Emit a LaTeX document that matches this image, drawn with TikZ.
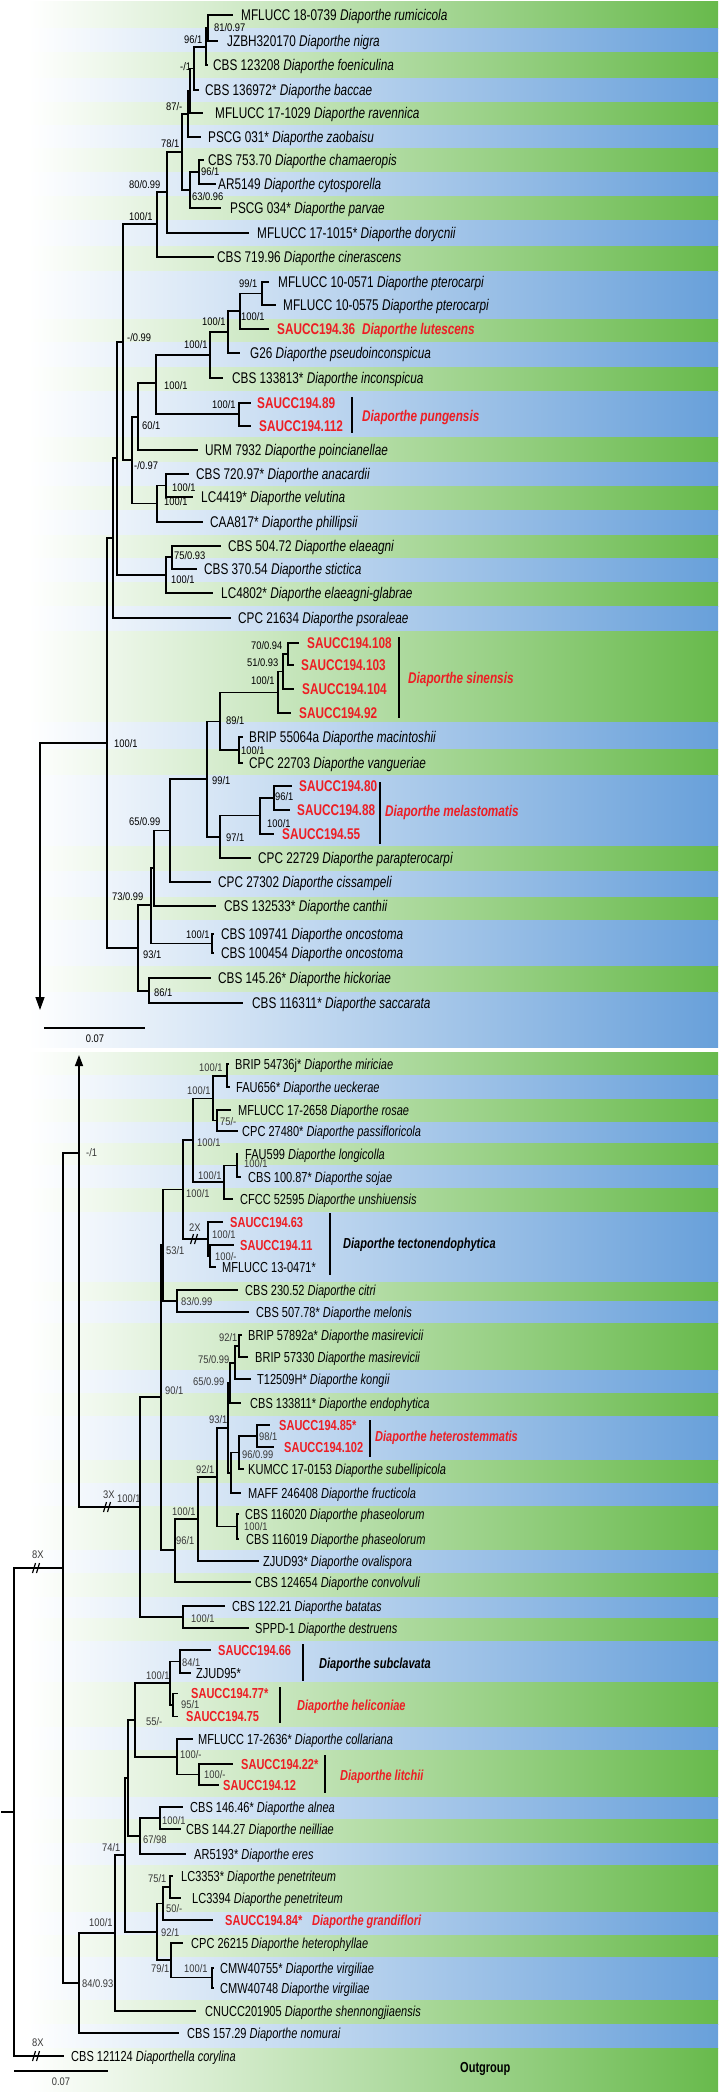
\documentclass[tikz,border=0pt]{standalone}
\usepackage{fontspec}
\setmainfont[FakeStretch=0.76]{Liberation Sans}
\newfontfamily\labfont[FakeStretch=0.85]{Liberation Sans}
\usetikzlibrary{arrows.meta}
\definecolor{gB}{RGB}{104,186,76}
\definecolor{bB}{RGB}{104,160,218}
\definecolor{sred}{RGB}{237,30,36}
\tikzset{
 br/.style={line width=1.4pt, line cap=rect},
 grpbar/.style={line width=1.8pt},
 brkline/.style={line width=1.2pt},
 leafT/.style={anchor=west, inner sep=0pt, text height=11.1pt, text depth=0pt, font=\fontsize{15.5}{18}\selectfont},
 leafB/.style={anchor=west, inner sep=0pt, text height=10.4pt, text depth=0pt, font=\fontsize{14.5}{17}\selectfont},
 leaf/.style={leafT},
 suppbase/.style={anchor=west, inner sep=0pt, text height=7.9pt, text depth=0pt, font=\labfont\fontsize{11}{12}\selectfont},
 supp/.style={suppbase},
}
\newcommand\dia[1]{\textit{Diaporthe #1}}
\newcommand\srb[1]{\textcolor{sred}{\bfseries #1}}
\newcommand\srbi[1]{\textcolor{sred}{\bfseries\itshape #1}}
\newcommand\tleaf[6]{\coordinate (#1) at (#3,#4);\draw[br] (#2) |- (#1);\node[leaf] (#1-t) at (#5,#4) {#6};}
\newcommand\tnode[4]{\coordinate (#1) at (#3,#4);\draw[br] (#2) |- (#1);}
\newcommand\tval[4]{\node[supp] (#1) at (#2,#3) {#4};}
\newcommand\tbrk[2]{\draw[brkline] (#1-3.5,#2+5) -- (#1-0.5,#2-5) (#1+0.5,#2+5) -- (#1+3.5,#2-5);}
\begin{document}
\begin{tikzpicture}[x=1pt,y=-1pt]
\useasboundingbox (0,0) rectangle (718,2093);
\fill[white] (0,0) rectangle (718,2093);
% ---------- bands ----------
\foreach \ya/\yb/\cc in {2/29/gB,29/53/bB,53/78/gB,78/102/bB,102/125/gB,125/148/bB,148/172/gB,172/196/bB,196/220/gB,220/246/bB,246/271/gB,271/319/bB,319/342/gB,342/367/bB,367/391/gB,391/437/bB,437/462/gB,462/486/bB,486/510/gB,510/535/bB,535/558/gB,558/582/bB,582/606/gB,606/631/bB,631/722/gB,722/749/bB,749/775/gB,775/846/bB,846/871/gB,871/897/bB,897/920/gB,920/966/bB,966/992/gB,992/1047/bB,
1052/1075/gB,1075/1099/bB,1099/1122/gB,1122/1143/bB,1143/1165/gB,1165/1188/bB,1188/1212/gB,1212/1282/bB,1282/1301/gB,1301/1323/bB,1323/1370/gB,1370/1393/bB,1393/1416/gB,1416/1460/bB,1460/1483/gB,1483/1506/bB,1506/1550/gB,1550/1573/bB,1573/1597/gB,1597/1618/bB,1618/1641/gB,1641/1682/bB,1682/1727/gB,1727/1750/bB,1750/1797/gB,1797/1819/bB,1819/1843/gB,1843/1865/bB,1865/1912/gB,1912/1935/bB,1935/1957/gB,1957/2000/bB,2000/2024/gB,2024/2048/bB,2048/2091/gB}
{\shade[left color=white,right color=\cc] (28,\ya) rectangle (718,\yb);}
% ================= TOP PANEL =================
\coordinate (tA) at (40,743);
\coordinate (tArr) at (40,1010);
\draw[br,-{Triangle[width=9pt,length=13pt]}] (tA) -- (tArr);
\coordinate (A) at (107,743); \draw[br] (tA) -- (A);
\tval{A-l}{114}{744}{100/1}
\tnode{N1}{A}{113}{538}
\tleaf{psor}{N1}{230}{618}{238}{CPC 21634 \dia{psoraleae}}
\tnode{N2}{N1}{117}{458}
\tnode{Nela}{N2}{166}{575} \tval{Nela-l}{171}{580}{100/1}
\tnode{N75}{Nela}{172}{557} \tval{N75-l}{174}{556}{75/0.93}
\tleaf{elae}{N75}{220}{546}{228}{CBS 504.72 \dia{elaeagni}}
\tleaf{stic}{N75}{196}{569}{204}{CBS 370.54 \dia{stictica}}
\tleaf{elgl}{Nela}{212}{593}{221}{LC4802* \dia{elaeagni-glabrae}}
\tnode{N3}{N2}{123}{342} \tval{N3-l}{127}{338}{-/0.99}
\tnode{C100}{N3}{157}{224} \tval{C100-l}{129}{217}{100/1}
\tnode{N80}{C100}{167}{192} \tval{N80-l}{129}{185}{80/0.99}
\tleaf{cine}{C100}{213}{257}{217}{CBS 719.96 \dia{cinerascens}}
\tnode{N78}{N80}{182}{152} \tval{N78-l}{161}{144}{78/1}
\tleaf{dory}{N80}{248}{233}{257}{MFLUCC 17-1015* \dia{dorycnii}}
\tnode{N87}{N78}{188}{114}
\tnode{N63}{N78}{190}{190} \tval{N63-l}{192}{197}{63/0.96}
\tnode{N96b}{N63}{199}{172} \tval{N96b-l}{201}{172}{96/1}
\tleaf{cham}{N96b}{203}{160}{208}{CBS 753.70 \dia{chamaeropis}}
\tleaf{cyto}{N96b}{215}{184}{218}{AR5149 \dia{cytosporella}}
\tleaf{parv}{N63}{220}{208}{230}{PSCG 034* \dia{parvae}}
\tnode{Nm1}{N87}{190}{91} \tval{Nm1-l}{166}{107}{87/-}
\tleaf{zaob}{N87}{200}{137}{208}{PSCG 031* \dia{zaobaisu}}
\tnode{Nn1}{Nm1}{194}{68.5} \tval{Nn1-l}{180}{67}{-/1}
\tleaf{rave}{Nm1}{202}{113}{215}{MFLUCC 17-1029 \dia{ravennica}}
\tnode{N96}{Nn1}{206}{47} \tval{N96-l}{184}{40}{96/1}
\tleaf{bacc}{Nn1}{198}{90}{205}{CBS 136972* \dia{baccae}}
\tnode{N81}{N96}{208}{28} \tval{N81-l}{214}{28}{81/0.97}
\tleaf{foen}{N96}{207}{65}{213}{CBS 123208 \dia{foeniculina}}
\tleaf{rumi}{N81}{232}{15}{241}{MFLUCC 18-0739 \dia{rumicicola}}
\tleaf{nigr}{N81}{217}{41}{227}{JZBH320170 \dia{nigra}}
\tnode{N4}{N3}{132}{460} \tval{N4-l}{134}{466}{-/0.97}
\tnode{N60}{N4}{138}{417} \tval{N60-l}{142}{426}{60/1}
\tleaf{poin}{N60}{197}{450}{205}{URM 7932 \dia{poincianellae}}
\tnode{N100a}{N60}{156}{383} \tval{N100a-l}{164}{386}{100/1}
\tnode{N100c}{N100a}{210}{355} \tval{N100c-l}{184}{345}{100/1}
\tnode{N100p}{N100a}{239}{414} \tval{N100p-l}{212}{405}{100/1}
\tleaf{s89}{N100p}{250}{403}{257}{\srb{SAUCC194.89}}
\tleaf{s112}{N100p}{250}{426}{259}{\srb{SAUCC194.112}}
\node[leaf] (pung) at (362,416) {\srbi{Diaporthe pungensis}};
\draw[grpbar] (352,397) -- (352,433);
\tnode{N100d}{N100c}{228}{332} \tval{N100d-l}{202}{322}{100/1}
\tleaf{inco}{N100c}{222}{378}{232}{CBS 133813* \dia{inconspicua}}
\tnode{Nlut}{N100d}{240}{311} \tval{Nlut-l}{241}{317}{100/1}
\tleaf{g26}{N100d}{239}{353}{250}{G26 \dia{pseudoinconspicua}}
\tnode{N99}{Nlut}{262}{293.5} \tval{N99-l}{239}{284}{99/1}
\tleaf{pte1}{N99}{268}{282}{278}{MFLUCC 10-0571 \dia{pterocarpi}}
\tleaf{pte2}{N99}{275}{305}{283}{MFLUCC 10-0575 \dia{pterocarpi}}
\tleaf{lute}{Nlut}{268}{329}{277}{\srb{SAUCC194.36}\hspace{7pt}\srbi{Diaporthe lutescens}}
\tnode{N100e}{N4}{157}{503.5} \tval{N100e-l}{164}{502}{100/1}
\tnode{N100f}{N100e}{166}{485.5} \tval{N100f-l}{172}{488}{100/1}
\tleaf{anac}{N100f}{188}{474}{196}{CBS 720.97* \dia{anacardii}}
\tleaf{velu}{N100f}{192}{497}{201}{LC4419* \dia{velutina}}
\tleaf{phil}{N100e}{202}{522}{210}{CAA817* \dia{phillipsii}}
\tnode{S}{A}{138}{948} \tval{S-l}{143}{955}{93/1}
\tnode{N73}{S}{151}{905} \tval{N73-l}{112}{897}{73/0.99}
\tnode{N86}{S}{149}{991} \tval{N86-l}{154}{993}{86/1}
\tleaf{hick}{N86}{210}{978}{218}{CBS 145.26* \dia{hickoriae}}
\tleaf{sacc}{N86}{242}{1003}{252}{CBS 116311* \dia{saccarata}}
\tnode{Nx}{N73}{154}{868}
\tnode{N100o}{N73}{212}{943.5} \tval{N100o-l}{186}{935}{100/1}
\tleaf{onc1}{N100o}{213}{934}{221}{CBS 109741 \dia{oncostoma}}
\tleaf{onc2}{N100o}{213}{953}{221}{CBS 100454 \dia{oncostoma}}
\tnode{N65}{Nx}{170}{830.5} \tval{N65-l}{129}{822}{65/0.99}
\tleaf{cant}{Nx}{215}{906}{224}{CBS 132533* \dia{canthii}}
\tnode{N99b}{N65}{207}{779} \tval{N99b-l}{212}{781}{99/1}
\tleaf{ciss}{N65}{210}{882}{218}{CPC 27302 \dia{cissampeli}}
\tnode{N89}{N99b}{220}{721.5} \tval{N89-l}{226}{721}{89/1}
\tnode{N97}{N99b}{220}{837} \tval{N97-l}{226}{838}{97/1}
\tnode{N100s}{N89}{278}{692.5} \tval{N100s-l}{251}{681}{100/1}
\tnode{N100m}{N89}{239}{750} \tval{N100m-l}{241}{751}{100/1}
\tleaf{maci}{N100m}{242}{737}{249}{BRIP 55064a \dia{macintoshii}}
\tleaf{vang}{N100m}{242}{763}{249}{CPC 22703 \dia{vangueriae}}
\tnode{N51}{N100s}{283}{671.5} \tval{N51-l}{247}{663}{51/0.93}
\tleaf{s92}{N100s}{290}{713}{299}{\srb{SAUCC194.92}}
\tnode{N70}{N51}{288}{654} \tval{N70-l}{251}{646}{70/0.94}
\tleaf{s104}{N51}{293}{689}{302}{\srb{SAUCC194.104}}
\tleaf{s108}{N70}{298}{643}{307}{\srb{SAUCC194.108}}
\tleaf{s103}{N70}{293}{665}{301}{\srb{SAUCC194.103}}
\node[leaf] (sine) at (408,678) {\srbi{Diaporthe sinensis}};
\draw[grpbar] (399,637) -- (399,718);
\tnode{N100x}{N97}{260}{815.5} \tval{N100x-l}{267}{824}{100/1}
\tleaf{para}{N97}{250}{858}{258}{CPC 22729 \dia{parapterocarpi}}
\tnode{N96c}{N100x}{274}{798} \tval{N96c-l}{275}{797}{96/1}
\tleaf{s55}{N100x}{273}{834}{282}{\srb{SAUCC194.55}}
\tleaf{s80}{N96c}{291}{786}{299}{\srb{SAUCC194.80}}
\tleaf{s88}{N96c}{289}{810}{297}{\srb{SAUCC194.88}}
\node[leaf] (mela) at (385,811) {\srbi{Diaporthe melastomatis}};
\draw[grpbar] (380,782) -- (380,844);
\coordinate (sb1) at (44,1028); \coordinate (sb2) at (145,1028);
\draw[line width=1.4pt] (sb1) -- (sb2);
\node[supp,anchor=center] (sbl) at (95,1039) {0.07};
% ================= BOTTOM PANEL =================
\tikzset{leaf/.style={leafB}, supp/.style={suppbase,text=black!78}}
\coordinate (r0) at (2,1812); \coordinate (R) at (14,1812); \draw[br] (r0) -- (R);
\tnode{B8}{R}{63}{1568}
\tbrk{36}{1568} \node[supp] (b8a) at (32,1555) {8X};
\tleaf{outg}{R}{63}{2056}{71}{CBS 121124 \textit{Diaporthella corylina}}
\tbrk{36}{2056} \node[supp] (b8b) at (32,2043) {8X};
\tnode{Narr}{B8}{79}{1153} \tval{Narr-l}{86}{1153}{-/1}
\coordinate (bArr) at (79,1055);
\draw[br,-{Triangle[width=8pt,length=11pt]}] (Narr) -- (bArr);
\tnode{N84b}{B8}{79}{1983} \tval{N84b-l}{82}{1984}{84/0.93}
\tnode{N3X}{Narr}{140}{1507} \tval{N3X-l}{117}{1499}{100/1}
\tbrk{107}{1507} \node[supp] (b3x) at (103,1495) {3X};
\tleaf{nomu}{N84b}{178}{2033}{187}{CBS 157.29 \dia{nomurai}}
\tnode{N100b}{N84b}{115}{1933} \tval{N100b-l}{89}{1923}{100/1}
\tleaf{shen}{N100b}{195}{2011}{205}{CNUCC201905 \dia{shennongjiaensis}}
\tnode{N74}{N100b}{125}{1855} \tval{N74-l}{102}{1848}{74/1}
\tnode{Nq}{N74}{128}{1778}
\tnode{Npg}{N74}{157}{1932} \tval{Npg-l}{161}{1933}{92/1}
\tnode{N55}{Nq}{135}{1720} \tval{N55-l}{146}{1722}{55/-}
\tnode{N67}{Nq}{140}{1836} \tval{N67-l}{143}{1840}{67/98}
\tnode{N100sh}{N55}{170}{1683} \tval{N100sh-l}{146}{1676}{100/1}
\tnode{N100l}{N55}{177}{1757} \tval{N100l-l}{180}{1755}{100/-}
\tnode{N84}{N100sh}{180}{1661.5} \tval{N84-l}{182}{1663}{84/1}
\tnode{N95}{N100sh}{173}{1705} \tval{N95-l}{181}{1705}{95/1}
\tleaf{s66}{N84}{210}{1650}{218}{\srb{SAUCC194.66}}
\tleaf{zj95}{N84}{190}{1673}{196}{ZJUD95*}
\tleaf{s77}{N95}{177}{1693.5}{191}{\srb{SAUCC194.77*}}
\tleaf{s75}{N95}{177}{1716.5}{186}{\srb{SAUCC194.75}}
\node[leaf] (subc) at (319,1663) {\textbf{\textit{Diaporthe subclavata}}};
\draw[grpbar] (303,1644) -- (303,1681);
\node[leaf] (heli) at (297,1705) {\srbi{Diaporthe heliconiae}};
\draw[grpbar] (280,1687) -- (280,1723);
\tleaf{coll}{N100l}{192}{1739}{198}{MFLUCC 17-2636* \dia{collariana}}
\tnode{N100l2}{N100l}{199}{1774.5} \tval{N100l2-l}{204}{1775}{100/-}
\tleaf{s22}{N100l2}{232}{1764}{241}{\srb{SAUCC194.22*}}
\tleaf{s12}{N100l2}{218}{1785}{223}{\srb{SAUCC194.12}}
\node[leaf] (litc) at (340,1775) {\srbi{Diaporthe litchii}};
\draw[grpbar] (325,1755) -- (325,1793);
\tnode{N100al}{N67}{160}{1818} \tval{N100al-l}{162}{1821}{100/1}
\tleaf{eres}{N67}{185}{1854}{194}{AR5193* \dia{eres}}
\tleaf{alne}{N100al}{182}{1807}{190}{CBS 146.46* \dia{alnea}}
\tleaf{neil}{N100al}{180}{1829}{186}{CBS 144.27 \dia{neilliae}}
\tnode{N50}{Npg}{163}{1903.5} \tval{N50-l}{166}{1909}{50/-}
\tnode{N79}{Npg}{171}{1960} \tval{N79-l}{151}{1969}{79/1}
\tnode{N75p}{N50}{170}{1887} \tval{N75p-l}{148}{1879}{75/1}
\tleaf{s84}{N50}{212}{1920}{225}{\srb{SAUCC194.84*}}
\node[leaf] (gran) at (312,1920) {\srbi{Diaporthe grandiflori}};
\tleaf{lc53}{N75p}{172}{1876}{181}{LC3353* \dia{penetriteum}}
\tleaf{lc94}{N75p}{180}{1898}{192}{LC3394 \dia{penetriteum}}
\tleaf{hete}{N79}{182}{1943}{191}{CPC 26215 \dia{heterophyllae}}
\tnode{N100v}{N79}{212}{1977.5} \tval{N100v-l}{184}{1969}{100/1}
\tleaf{vir1}{N100v}{213}{1968}{220}{CMW40755* \dia{virgiliae}}
\tleaf{vir2}{N100v}{213}{1988}{220}{CMW40748 \dia{virgiliae}}
\tnode{N90}{N3X}{161}{1397} \tval{N90-l}{165}{1391}{90/1}
\tnode{Nbat}{N3X}{183}{1617} \tval{Nbat-l}{191}{1619}{100/1}
\tleaf{bata}{Nbat}{224}{1606}{232}{CBS 122.21 \dia{batatas}}
\tleaf{dest}{Nbat}{248}{1628}{255}{SPPD-1 \dia{destruens}}
\tnode{N53}{N90}{163}{1245} \tval{N53-l}{166}{1251}{53/1}
\tnode{N96d}{N90}{175}{1550} \tval{N96d-l}{176}{1541}{96/1}
\tnode{N100}{N53}{183}{1189.5} \tval{N100-l}{186}{1194}{100/1}
\tnode{N83}{N53}{177}{1301} \tval{N83-l}{181}{1302}{83/0.99}
\tleaf{citr}{N83}{237}{1290}{245}{CBS 230.52 \dia{citri}}
\tleaf{melo}{N83}{248}{1312}{256}{CBS 507.78* \dia{melonis}}
\tnode{N100u}{N100}{193}{1140} \tval{N100u-l}{197}{1143}{100/1}
\tnode{N100t}{N100}{208}{1239} \tval{N100t-l}{212}{1235}{100/1}
\tbrk{194}{1239} \node[supp] (b2x) at (189,1228) {2X};
\tleaf{s63}{N100t}{222}{1222}{230}{\srb{SAUCC194.63}}
\tnode{N100t2}{N100t}{210}{1256} \tval{N100t2-l}{215}{1257}{100/-}
\tleaf{s11}{N100t2}{233}{1245}{240}{\srb{SAUCC194.11}}
\tleaf{m0471}{N100t2}{215}{1267}{222}{MFLUCC 13-0471*}
\node[leaf] (tect) at (343,1243) {\textbf{\textit{Diaporthe tectonendophytica}}};
\draw[grpbar] (330,1213) -- (330,1275);
\tnode{Nmr}{N100u}{213}{1098.5} \tval{Nmr-l}{187}{1091}{100/1}
\tnode{Nls}{N100u}{224}{1182} \tval{Nls-l}{198}{1176}{100/1}
\tnode{N100mi}{Nmr}{227}{1076} \tval{N100mi-l}{199}{1068}{100/1}
\tnode{Nro}{Nmr}{217}{1120.5} \tval{Nro-l}{220}{1122}{75/-}
\tleaf{miri}{N100mi}{228}{1064}{235}{BRIP 54736j* \dia{miriciae}}
\tleaf{ueck}{N100mi}{229}{1087}{236}{FAU656* \dia{ueckerae}}
\tleaf{rosa}{Nro}{230}{1110}{238}{MFLUCC 17-2658 \dia{rosae}}
\tleaf{pass}{Nro}{237}{1131}{242}{CPC 27480* \dia{passifloricola}}
\tnode{Nlo}{Nls}{237}{1165.5} \tval{Nlo-l}{244}{1164}{100/1}
\tleaf{unsh}{Nls}{232}{1199}{240}{CFCC 52595 \dia{unshiuensis}}
\tleaf{long}{Nlo}{237}{1154}{245}{FAU599 \dia{longicolla}}
\tleaf{soja}{Nlo}{240}{1177}{248}{CBS 100.87* \dia{sojae}}
\tnode{N100ph}{N96d}{198}{1519} \tval{N100ph-l}{172}{1512}{100/1}
\tleaf{conv}{N96d}{250}{1582}{255}{CBS 124654 \dia{convolvuli}}
\tnode{N92}{N100ph}{217}{1477} \tval{N92-l}{196}{1470}{92/1}
\tleaf{oval}{N100ph}{258}{1561}{263}{ZJUD93* \dia{ovalispora}}
\tnode{N93}{N92}{228}{1428} \tval{N93-l}{209}{1420}{93/1}
\tnode{N100z}{N92}{237}{1526.5} \tval{N100z-l}{244}{1527}{100/1}
\tleaf{pha1}{N100z}{238}{1514}{245}{CBS 116020 \dia{phaseolorum}}
\tleaf{pha2}{N100z}{238}{1539}{246}{CBS 116019 \dia{phaseolorum}}
\tnode{N65b}{N93}{230}{1383} \tval{N65b-l}{193}{1382}{65/0.99}
\tnode{Ny}{N93}{231}{1473}
\tnode{N75b}{N65b}{235}{1363} \tval{N75b-l}{198}{1360}{75/0.99}
\tleaf{endo}{N65b}{240}{1403}{250}{CBS 133811* \dia{endophytica}}
\tnode{N92m}{N75b}{239}{1346} \tval{N92m-l}{219}{1338}{92/1}
\tleaf{kong}{N75b}{250}{1379}{257}{T12509H* \dia{kongii}}
\tleaf{mas1}{N92m}{241}{1335}{248}{BRIP 57892a* \dia{masirevicii}}
\tleaf{mas2}{N92m}{247}{1357}{255}{BRIP 57330 \dia{masirevicii}}
\tnode{Nh96}{Ny}{239}{1452.5} \tval{Nh96-l}{242}{1455}{96/0.99}
\tleaf{fruc}{Ny}{240}{1493}{248}{MAFF 246408 \dia{fructicola}}
\tnode{N98}{Nh96}{257}{1436} \tval{N98-l}{259}{1437}{98/1}
\tleaf{sube}{Nh96}{243}{1469}{248}{KUMCC 17-0153 \dia{subellipicola}}
\tleaf{s85}{N98}{269}{1425}{279}{\srb{SAUCC194.85*}}
\tleaf{s102}{N98}{273}{1447}{284}{\srb{SAUCC194.102}}
\node[leaf] (hets) at (375,1436) {\srbi{Diaporthe heterostemmatis}};
\draw[grpbar] (370,1420) -- (370,1457);
\node[leaf] (outl) at (460,2067) {\textbf{Outgroup}};
\coordinate (sb3) at (14,2071); \coordinate (sb4) at (108,2071);
\draw[line width=1.4pt] (sb3) -- (sb4);
\node[supp,anchor=center] (sbl2) at (61,2082) {0.07};
\end{tikzpicture}
\end{document}
